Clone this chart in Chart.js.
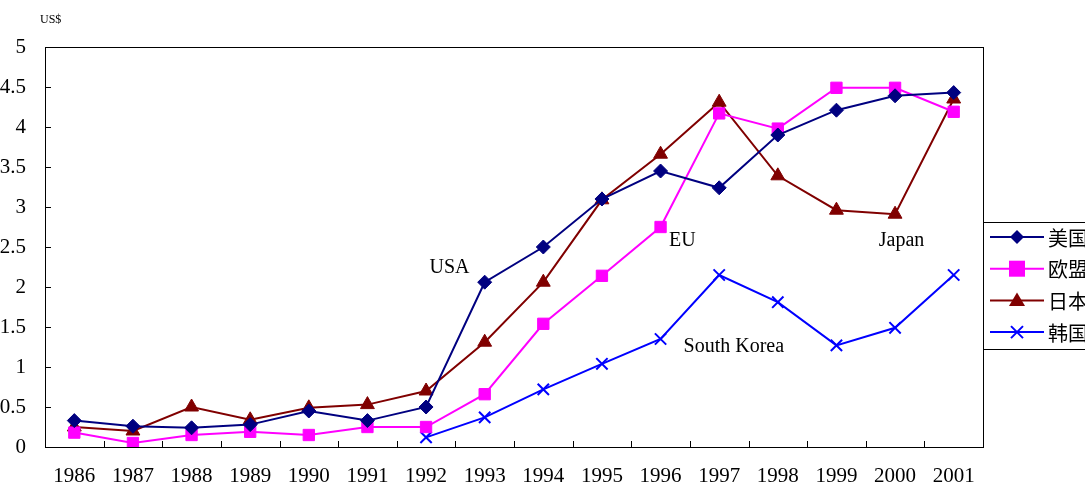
<!DOCTYPE html>
<html lang="zh">
<head>
<meta charset="UTF-8">
<title>US$ 1986-2001</title>
<script src="https://cdn.jsdelivr.net/npm/chart.js"></script>
<style>
  html, body { margin: 0; padding: 0; background: #fff; }
  #wrap { width: 1085px; height: 488px; position: relative; }
</style>
</head>
<body>
<div id="wrap"><canvas id="c" width="1085" height="488"></canvas></div>
<script>
const years = ['1986','1987','1988','1989','1990','1991','1992','1993','1994','1995','1996','1997','1998','1999','2000','2001'];
const usa   = [0.33, 0.26, 0.24, 0.28, 0.45, 0.33, 0.50, 2.06, 2.50, 3.10, 3.45, 3.24, 3.90, 4.21, 4.39, 4.43];
const eu    = [0.18, 0.05, 0.15, 0.19, 0.15, 0.25, 0.25, 0.66, 1.54, 2.14, 2.75, 4.17, 3.98, 4.49, 4.49, 4.19];
const japan = [0.25, 0.20, 0.50, 0.34, 0.49, 0.53, 0.70, 1.31, 2.06, 3.09, 3.66, 4.31, 3.39, 2.96, 2.91, 4.35];
const korea = [null, null, null, null, null, null, 0.12, 0.37, 0.72, 1.04, 1.35, 2.15, 1.81, 1.27, 1.49, 2.15];
const seriesNames = ['美国', '欧盟', '日本', '韩国'];
// annotation labels: [text, category index, value]
const notes = [['USA', 6.4, 2.24], ['EU', 10.37, 2.58], ['Japan', 14.11, 2.58], ['South Korea', 11.25, 1.25]];

const SERIF = '"Liberation Serif", "Times New Roman", serif';
const colors = ['#000080', '#FF00FF', '#800000', '#0000FF'];
const styles = ['rectRot', 'rect', 'triangle', 'crossRot'];
const radii = [7, 8, 8, 8];

function drawMarker(ctx, style, x, y, r, color) {
  ctx.save();
  ctx.fillStyle = color; ctx.strokeStyle = color; ctx.lineWidth = 2;
  ctx.beginPath();
  if (style === 'rectRot') {
    ctx.moveTo(x, y - r); ctx.lineTo(x + r, y); ctx.lineTo(x, y + r); ctx.lineTo(x - r, y); ctx.closePath(); ctx.fill();
  } else if (style === 'rect') {
    ctx.fillRect(x - r, y - r, 2 * r, 2 * r);
  } else if (style === 'triangle') {
    ctx.moveTo(x, y - r); ctx.lineTo(x + r, y + r * 0.7); ctx.lineTo(x - r, y + r * 0.7); ctx.closePath(); ctx.fill();
  } else {
    ctx.moveTo(x - r * 0.75, y - r * 0.75); ctx.lineTo(x + r * 0.75, y + r * 0.75);
    ctx.moveTo(x + r * 0.75, y - r * 0.75); ctx.lineTo(x - r * 0.75, y + r * 0.75); ctx.stroke();
  }
  ctx.restore();
}

const frame = {
  id: 'frame',
  afterDraw(chart) {
    const { ctx, chartArea: a, scales: { x, y } } = chart;
    ctx.save();
    ctx.strokeStyle = '#000'; ctx.lineWidth = 1;
    ctx.strokeRect(a.left + 0.5, a.top + 0.5, a.right - a.left, a.bottom - a.top);
    // inward tick marks
    const step = (a.right - a.left) / years.length;
    ctx.beginPath();
    for (let i = 1; i < years.length; i++) {
      const px = Math.round(x.getPixelForValue(i) - step / 2) + 0.5;
      ctx.moveTo(px, a.bottom); ctx.lineTo(px, a.bottom - 6);
    }
    y.ticks.forEach(t => {
      const py = Math.round(y.getPixelForValue(t.value)) + 0.5;
      ctx.moveTo(a.left, py); ctx.lineTo(a.left + 6, py);
    });
    ctx.stroke();

    // unit label
    ctx.fillStyle = '#000';
    ctx.font = '12px ' + SERIF;
    ctx.textAlign = 'left'; ctx.textBaseline = 'middle';
    ctx.fillText('US$', 40, 20);

    // annotations
    ctx.font = '20px ' + SERIF;
    ctx.textAlign = 'center';
    notes.forEach(([t, i, v]) => ctx.fillText(t, x.getPixelForValue(i), y.getPixelForValue(v)));

    // legend
    const lx = a.right, ly = 222;
    ctx.fillStyle = '#fff';
    ctx.fillRect(lx, ly, 1085 - lx, 127);
    ctx.strokeStyle = '#000';
    ctx.strokeRect(lx + 0.5, ly + 0.5, 1085 - lx + 5, 127);
    ctx.font = '20px "Noto Sans CJK SC", sans-serif';
    ctx.textAlign = 'left';
    seriesNames.forEach((n, k) => {
      const ry = 237 + k * 31.7;
      ctx.strokeStyle = colors[k]; ctx.lineWidth = 2;
      ctx.beginPath(); ctx.moveTo(lx + 7, ry); ctx.lineTo(lx + 61, ry); ctx.stroke();
      drawMarker(ctx, styles[k], lx + 34, ry, radii[k], colors[k]);
      ctx.fillStyle = '#000';
      ctx.fillText(n, lx + 65, ry + 1);
    });
    ctx.restore();
  }
};

const datasets = [usa, eu, japan, korea].map((d, k) => ({
  label: seriesNames[k],
  data: d,
  borderColor: colors[k],
  backgroundColor: colors[k],
  borderWidth: 2,
  pointStyle: styles[k],
  pointRadius: radii[k],
  pointBorderWidth: k === 3 ? 2 : 1,
  spanGaps: false,
  tension: 0
}));

new Chart(document.getElementById('c'), {
  type: 'line',
  data: { labels: years, datasets },
  options: {
    responsive: false,
    animation: false,
    layout: { padding: { top: 47, right: 102, left: 0, bottom: 0 } },
    plugins: { legend: { display: false }, tooltip: { enabled: false } },
    scales: {
      x: {
        offset: true,
        grid: { display: false },
        border: { display: false },
        ticks: { color: '#000', font: { family: SERIF, size: 21 }, padding: 9, maxRotation: 0, autoSkip: false },
        afterFit(s) { s.height = 41; }
      },
      y: {
        min: 0, max: 5,
        grid: { display: false },
        border: { display: false },
        ticks: { stepSize: 0.5, color: '#000', font: { family: SERIF, size: 21 }, padding: 11, callback: v => String(v) },
        afterFit(s) { s.width = 45; }
      }
    }
  },
  plugins: [frame]
});
</script>
</body>
</html>
